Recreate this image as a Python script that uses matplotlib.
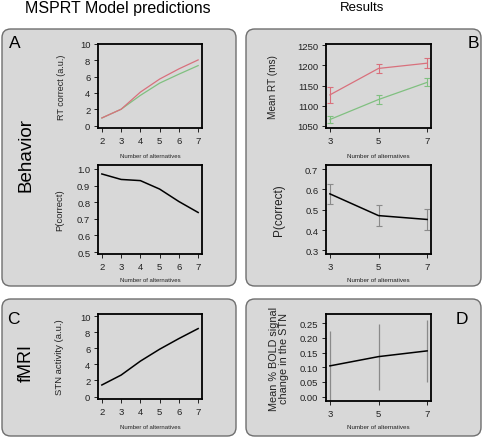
import numpy as np
import matplotlib
matplotlib.use('Agg')
import matplotlib.pyplot as plt
from matplotlib.patches import FancyBboxPatch

plt.rcParams['font.family'] = ['Liberation Sans', 'DejaVu Sans']

W, H = 483, 439

# model predictions (MSPRT)
n_model = [2, 3, 4, 5, 6, 7]
rt_red = [0.93, 2.0, 4.1, 5.7, 6.95, 8.05]
rt_green = [0.93, 2.0, 3.7, 5.2, 6.3, 7.35]
p_model = [0.97, 0.937, 0.93, 0.879, 0.804, 0.738]
stn_model = [1.44, 2.67, 4.4, 5.88, 7.2, 8.44]

# results
n_res = [3, 5, 7]
rt_res_red = [1127, 1192.5, 1205.5]
rt_res_red_err = [20, 11, 12]
rt_res_green = [1066, 1115.5, 1158]
rt_res_green_err = [8, 10, 10]
p_res = [0.578, 0.471, 0.452]
p_res_err = [0.049, 0.052, 0.051]
bold_res = [0.1045, 0.136, 0.1555]
bold_res_err = [0.118, 0.112, 0.105]

RED = '#d9707c'
GREEN = '#80c080'
PANEL = '#d8d8d8'
EDGE = '#6e6e6e'
ERR = '#8a8a8a'

fig = plt.figure(figsize=(W / 100, H / 100), dpi=100)
fig.patch.set_facecolor('white')


def px(x0, y0, x1, y1):
    # pixel box (top-left origin) -> figure fraction rect
    return [x0 / W, 1 - y1 / H, (x1 - x0) / W, (y1 - y0) / H]


def panel(x0, y0, x1, y1):
    r = px(x0, y0, x1, y1)
    p = FancyBboxPatch((r[0], r[1]), r[2], r[3], boxstyle='round,pad=0,rounding_size=0.018',
                       transform=fig.transFigure, facecolor=PANEL, edgecolor=EDGE, lw=1.0,
                       mutation_aspect=W / H, zorder=-1)
    fig.patches.append(p)


panel(2, 30, 236, 287)
panel(246, 30, 481, 287)
panel(2, 300, 236, 437)
panel(246, 300, 481, 437)


def make_ax(box, xl, yl, xticks, yticks, yfmt, ylab, ylab_dx, ylab_size, xlab_dy, xlab_size,
            tick_size=6.8):
    ax = fig.add_axes(px(*box))
    ax.set_facecolor('none')
    ax.set_xlim(*xl)
    ax.set_ylim(*yl)
    ax.set_xticks(xticks)
    ax.set_yticks(yticks)
    ax.set_yticklabels([yfmt.format(v) for v in yticks])
    for s in ax.spines.values():
        s.set_linewidth(1.3)
    ax.tick_params(direction='out', length=3, width=0.7, labelsize=tick_size, pad=2.5,
                   colors='#222222')
    hgt = box[3] - box[1]
    wid = box[2] - box[0]
    ax.set_ylabel(ylab, fontsize=ylab_size, color='#222222')
    ax.yaxis.set_label_coords(-ylab_dx / wid, 0.5)
    ax.yaxis.label.set_va('center')
    ax.set_xlabel('Number of alternatives', fontsize=xlab_size, color='#222222')
    ax.xaxis.set_label_coords(0.5, -xlab_dy / hgt)
    ax.xaxis.label.set_va('center')
    return ax


# A top
ax = make_ax((98, 45, 202, 129), (1.8, 7.2), (-0.3, 10.0), n_model, [0, 2, 4, 6, 8, 10], '{:g}',
             'RT correct (a.u.)', 36, 6.5, 28, 4.3)
ax.plot(n_model, rt_green, color=GREEN, lw=0.9)
ax.plot(n_model, rt_red, color=RED, lw=0.9)

# A bottom
ax = make_ax((98, 166, 202, 255), (1.8, 7.2), (0.488, 1.024), n_model,
             [0.5, 0.6, 0.7, 0.8, 0.9, 1.0], '{:.1f}', 'P(correct)', 38, 6.8, 26, 4.3)
ax.plot(n_model, p_model, color='black', lw=1.1)

# B top
ax = make_ax((326, 45, 431, 129), (2.84, 7.16), (1045, 1253), n_res,
             [1050, 1100, 1150, 1200, 1250], '{:g}', 'Mean RT (ms)', 53, 7.2, 28, 4.5)
ax.errorbar(n_res, rt_res_red, yerr=rt_res_red_err, color=RED, lw=0.9, capsize=2,
            elinewidth=0.8, capthick=0.8)
ax.errorbar(n_res, rt_res_green, yerr=rt_res_green_err, color=GREEN, lw=0.9, capsize=2,
            elinewidth=0.8, capthick=0.8)

# B bottom
ax = make_ax((326, 166, 431, 255), (2.84, 7.16), (0.282, 0.72), n_res,
             [0.3, 0.4, 0.5, 0.6, 0.7], '{:.1f}', 'P(correct)', 47, 8.5, 26, 4.5)
ax.errorbar(n_res, p_res, yerr=p_res_err, color='black', lw=1.1, ecolor=ERR, capsize=2,
            elinewidth=0.8, capthick=0.8)

# C
ax = make_ax((98, 315, 202, 400), (1.8, 7.2), (-0.3, 10.25), n_model, [0, 2, 4, 6, 8, 10], '{:g}',
             'STN activity (a.u.)', 38, 6.8, 28, 4.3)
ax.plot(n_model, stn_model, color='black', lw=1.1)

# D
ax = make_ax((326, 315, 431, 402), (2.84, 7.16), (-0.015, 0.281), n_res,
             [0.0, 0.05, 0.10, 0.15, 0.20, 0.25], '{:.2f}', 'Mean % BOLD signal\nchange in the STN',
             47, 7.8, 26, 4.5)
ax.yaxis.label.set_linespacing(0.95)
ax.errorbar(n_res, bold_res, yerr=bold_res_err, color='black', lw=1.1, ecolor=ERR, capsize=0,
            elinewidth=0.9)

# titles, row labels, panel letters
fig.text(118 / W, 1 - 8 / H, 'MSPRT Model predictions', fontsize=11.5, ha='center', va='center')
fig.text(362 / W, 1 - 8 / H, 'Results', fontsize=9.5, ha='center', va='center')
fig.text(26 / W, 1 - 155 / H, 'Behavior', fontsize=13.5, rotation=90, ha='center', va='center')
fig.text(26 / W, 1 - 363 / H, 'fMRI', fontsize=13, rotation=90, ha='center', va='center')
for lab, x, y in [('A', 15, 44), ('B', 473, 43), ('C', 13, 319), ('D', 462, 319)]:
    fig.text(x / W, 1 - y / H, lab, fontsize=12.5, ha='center', va='center')

fig.savefig('out.png', dpi=100)
